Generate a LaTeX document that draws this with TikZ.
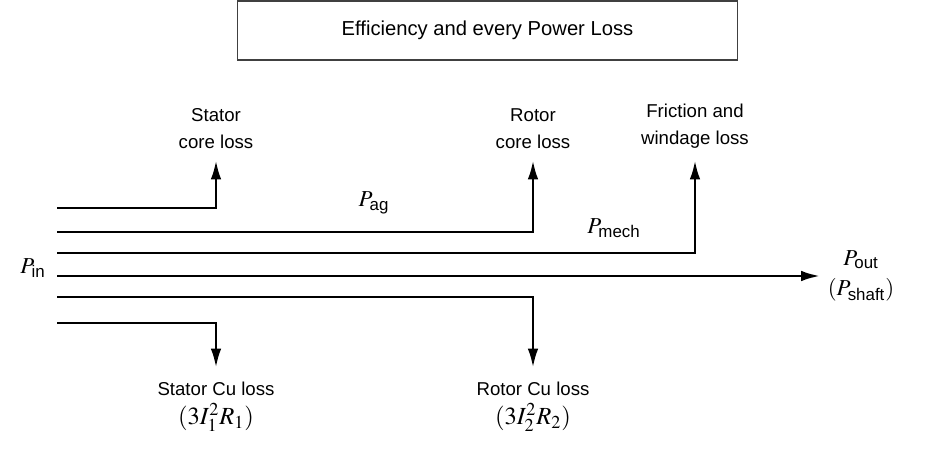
\documentclass[tikz,border=0pt]{standalone}
\usepackage{amsmath}
\usepackage{mathptmx}
\usepackage{fontspec}
\setmainfont{Liberation Sans}
\usetikzlibrary{arrows.meta}

\begin{document}
\begin{tikzpicture}[
    x=0.02cm, y=-0.02cm,
    loss/.style={font=\fontsize{10.6}{15.3}\selectfont, align=center, inner xsep=1pt},
    pwr/.style={font=\fontsize{13}{17.5}\selectfont, align=center, inner sep=1pt},
    flow/.style={line width=1.7pt, line join=miter},
    flowArrow/.style={flow, -{Latex[length=11pt,width=6pt]}}
  ]
  \useasboundingbox (0,0) rectangle (951,473);

  % title box
  \node[draw=black!75, line width=0.6pt, minimum width=10.02cm, minimum height=1.18cm,
        font=\fontsize{11.5}{14}\selectfont] (title) at (487.5,30.5) {Efficiency and every Power Loss};

  % losses
  \node[loss, anchor=south, inner ysep=6.5pt] (statorCore) at (216,160) {Stator\\core loss};
  \node[loss, anchor=south, inner ysep=6.5pt] (rotorCore)  at (533,160) {Rotor\\core loss};
  \node[loss, anchor=south, inner ysep=6.5pt] (friction)   at (695,160) {Friction and\\windage loss};
  \node[loss, anchor=north, inner ysep=8pt] (statorCu) at (216,368)
    {Stator Cu loss\\[1pt]{\fontsize{14}{17}\selectfont$(3I_1^2R_1)$}};
  \node[loss, anchor=north, inner ysep=8pt] (rotorCu) at (533,368)
    {Rotor Cu loss\\[1pt]{\fontsize{14}{17}\selectfont$(3I_2^2R_2)$}};

  % powers
  \node[pwr]                 (pin)   at (33,268)  {$P_{\text{in}}$};
  \node[pwr]                 (pag)   at (374,203) {$P_{\text{ag}}$};
  \node[pwr]                 (pmech) at (614,228) {$P_{\text{mech}}$};
  \node[pwr, inner xsep=4pt] (pout)  at (861,276) {$P_{\text{out}}$\\$(P_{\text{shaft}})$};

  \coordinate (s1) at (57,208);
  \coordinate (s2) at (57,232);
  \coordinate (s3) at (57,253);
  \coordinate (s4) at (57,276);
  \coordinate (s5) at (57,297);
  \coordinate (s6) at (57,323);

  \draw[flowArrow] (s1) -| (statorCore.south);
  \draw[flowArrow] (s2) -| (rotorCore.south);
  \draw[flowArrow] (s3) -| (friction.south);
  \draw[flowArrow] (s4) -- (s4 -| pout.west);
  \draw[flowArrow] (s5) -| (rotorCu.north);
  \draw[flowArrow] (s6) -| (statorCu.north);
\end{tikzpicture}
\end{document}
